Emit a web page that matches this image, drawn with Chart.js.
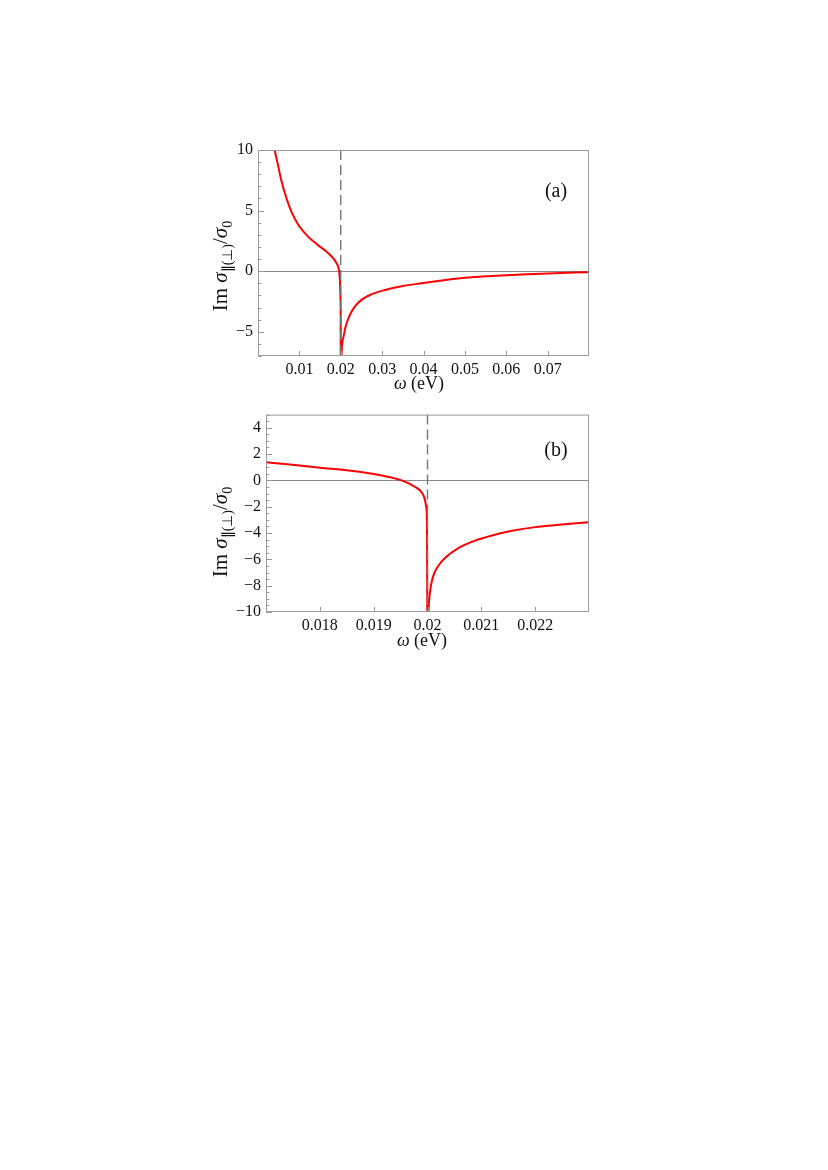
<!DOCTYPE html>
<html>
<head>
<meta charset="utf-8">
<script src="https://cdn.jsdelivr.net/npm/chart.js@4"></script>
<style>
  html, body { margin: 0; padding: 0; background: #fff; }
  body { width: 828px; height: 1170px; position: relative; overflow: hidden; }
  canvas { position: absolute; left: 0; }
</style>
</head>
<body>
<canvas id="chartA" width="828" height="300" style="top:100px"></canvas>
<canvas id="chartB" width="828" height="260" style="top:400px"></canvas>
<script>
// ---- данные ----
// панель (a): широкий диапазон частот
const omegaA = [0.0037, 0.0040, 0.0048, 0.0057, 0.0069, 0.0081, 0.0097, 0.0121, 0.0145, 0.0166,
                0.0182, 0.0190, 0.0194, 0.0196, 0.0198, 0.0199, 0.01998, 0.0200,
                0.0202, 0.0206, 0.0212, 0.0222, 0.0234, 0.0250, 0.0275, 0.0307, 0.0347, 0.0396,
                0.0444, 0.0500, 0.0550, 0.0600, 0.0650, 0.0700, 0.0750, 0.0800];
const imSigmaA = [11.0, 10.1, 8.8, 7.4, 6.0, 4.9, 3.85, 2.85, 2.15, 1.6,
                  1.05, 0.65, 0.35, 0.05, -0.8, -1.8, -4.0, -14,
                  -6.9, -5.5, -4.55, -3.6, -2.93, -2.37, -1.9, -1.55, -1.24, -0.99,
                  -0.77, -0.55, -0.42, -0.33, -0.25, -0.19, -0.13, -0.08];

// панель (b): окрестность резонанса
const omegaB = [0.0170, 0.0174, 0.0180, 0.0187, 0.01915, 0.01952, 0.01977, 0.0199, 0.01996, 0.01998,
                0.01999, 0.0200, 0.02002, 0.02005, 0.0201, 0.0202, 0.02033, 0.02058, 0.0209, 0.0212,
                0.02157, 0.0220, 0.02244, 0.0230];
const imSigmaB = [1.37, 1.22, 0.97, 0.67, 0.37, 0.0, -0.5, -0.95, -1.6, -2.2,
                  -3.2, -14, -10.0, -8.4, -7.35, -6.5, -5.88, -5.13, -4.55, -4.18,
                  -3.83, -3.55, -3.37, -3.18];

const resonance = 0.02;   // 2μ, штриховая линия

const xTicksA = [0.01, 0.02, 0.03, 0.04, 0.05, 0.06, 0.07];
const yTicksA = [-5, 0, 5, 10];
const xRangeA = [0, 0.08];
const yRangeA = [-7, 10];

const xTicksB = [0.018, 0.019, 0.02, 0.021, 0.022];
const yTicksB = [-10, -8, -6, -4, -2, 0, 2, 4];
const xRangeB = [0.017, 0.023];
const yRangeB = [-10, 5];

const SERIF = '"Liberation Serif", "Times New Roman", serif';
Chart.defaults.font.family = SERIF;
Chart.defaults.font.size = 16;
Chart.defaults.color = '#111';

function fmt(v) {
    return String(+v.toFixed(4)).replace('-', '\u2212');
}

// рамка, внутренние засечки и подписи в стиле Mathematica
const framePlugin = {
    id: 'frameTicks',
    afterDraw(chart, args, opts) {
        const { ctx, chartArea: a, scales: { x, y } } = chart;
        ctx.save();
        ctx.strokeStyle = '#9a9a9a';
        ctx.lineWidth = 1;
        ctx.strokeRect(a.left + 0.5, a.top + 0.5, a.right - a.left - 1, a.bottom - a.top - 1);

        ctx.beginPath();
        // левая ось: крупные и мелкие засечки
        for (let v = y.min; v <= y.max + 1e-9; v += opts.yMinor) {
            const py = Math.round(y.getPixelForValue(v)) + 0.5;
            const major = opts.yMajor.some(t => Math.abs(t - v) < 1e-9);
            ctx.moveTo(a.left, py);
            ctx.lineTo(a.left + (major ? 6 : 3.5), py);
        }
        // нижняя ось
        opts.xMajor.forEach(v => {
            const px = Math.round(x.getPixelForValue(v)) + 0.5;
            ctx.moveTo(px, a.bottom);
            ctx.lineTo(px, a.bottom - 5);
        });
        ctx.stroke();

        ctx.fillStyle = '#111';
        // подпись оси x: ω (eV)
        ctx.textBaseline = 'middle';
        ctx.font = 'italic 18px ' + SERIF;
        const w1 = ctx.measureText('\u03c9').width;
        ctx.font = '18px ' + SERIF;
        const w2 = ctx.measureText(' (eV)').width;
        let sx = opts.xTitle[0] - (w1 + w2) / 2;
        ctx.font = 'italic 18px ' + SERIF;
        ctx.fillText('\u03c9', sx, opts.xTitle[1]);
        ctx.font = '18px ' + SERIF;
        ctx.fillText(' (eV)', sx + w1, opts.xTitle[1]);

        // подпись оси y: Im σ∥(⊥)/σ0
        const parts = [
            { t: 'Im ', f: '21px ' + SERIF, dy: 0 },
            { t: '\u03c3', f: 'italic 21px ' + SERIF, dy: 0 },
            { t: '\u2225(\u22a5)', f: '14px ' + SERIF, dy: 5 },
            { t: '/', f: '21px ' + SERIF, dy: 0 },
            { t: '\u03c3', f: 'italic 21px ' + SERIF, dy: 0 },
            { t: '0', f: '14px ' + SERIF, dy: 5 }
        ];
        ctx.textBaseline = 'alphabetic';
        let total = 0;
        parts.forEach(p => { ctx.font = p.f; p.w = ctx.measureText(p.t).width; total += p.w; });
        ctx.translate(opts.yTitle[0], opts.yTitle[1]);
        ctx.rotate(-Math.PI / 2);
        let cx = -total / 2;
        parts.forEach(p => { ctx.font = p.f; ctx.fillText(p.t, cx, p.dy); cx += p.w; });
        ctx.setTransform(1, 0, 0, 1, 0, 0);

        // метка панели
        ctx.font = '20px ' + SERIF;
        ctx.textAlign = 'center';
        ctx.textBaseline = 'middle';
        ctx.fillText(opts.label, opts.labelPos[0], opts.labelPos[1]);
        ctx.restore();
    }
};

function makePanel(id, omega, values, xr, yr, xTicks, yTicks, padding, extra) {
    const ctx = document.getElementById(id).getContext('2d');
    return new Chart(ctx, {
        type: 'line',
        data: {
            datasets: [{
                data: [{ x: resonance, y: yr[1] }, { x: resonance, y: yr[0] }],
                borderColor: '#777',
                borderWidth: 1.4,
                borderDash: [10, 5],
                pointRadius: 0,
                tension: 0,
                order: 0,
                clip: 0
            }, {
                data: omega.map((w, i) => ({ x: w, y: values[i] })),
                borderColor: '#ff0000',
                borderWidth: 2,
                pointRadius: 0,
                cubicInterpolationMode: 'monotone',
                order: 1,
                clip: 0
            }]
        },
        options: {
            responsive: false,
            animation: false,
            devicePixelRatio: 1,
            layout: { padding },
            plugins: {
                legend: { display: false },
                tooltip: { enabled: false },
                frameTicks: extra
            },
            scales: {
                x: {
                    type: 'linear',
                    min: xr[0], max: xr[1],
                    afterBuildTicks: s => { s.ticks = xTicks.map(v => ({ value: v })); },
                    afterFit: s => { s.height = 30; },
                    grid: { display: false, drawTicks: false },
                    border: { display: false },
                    ticks: { padding: 4, maxRotation: 0, autoSkip: false, callback: v => fmt(v) }
                },
                y: {
                    type: 'linear',
                    min: yr[0], max: yr[1],
                    afterBuildTicks: s => { s.ticks = yTicks.map(v => ({ value: v })); },
                    afterFit: s => { s.width = 60; },
                    grid: {
                        drawTicks: false,
                        lineWidth: 1,
                        color: c => (c.tick && c.tick.value === 0 ? '#8a8a8a' : 'rgba(0,0,0,0)')
                    },
                    border: { display: false },
                    ticks: { padding: 5, autoSkip: false, callback: v => fmt(v) }
                }
            }
        },
        plugins: [framePlugin]
    });
}

makePanel('chartA', omegaA, imSigmaA, xRangeA, yRangeA, xTicksA, yTicksA,
    { left: 198, top: 50, right: 239, bottom: 14 },
    { xMajor: xTicksA, yMajor: yTicksA, yMinor: 1,
      xTitle: [419, 284], yTitle: [227, 166], label: '(a)', labelPos: [556, 92] });

makePanel('chartB', omegaB, imSigmaB, xRangeB, yRangeB, xTicksB, yTicksB,
    { left: 206, top: 12, right: 239, bottom: 18 },
    { xMajor: xTicksB, yMajor: yTicksB, yMinor: 0.5,
      xTitle: [422, 241], yTitle: [227, 132], label: '(b)', labelPos: [556, 51] });
</script>
</body>
</html>
